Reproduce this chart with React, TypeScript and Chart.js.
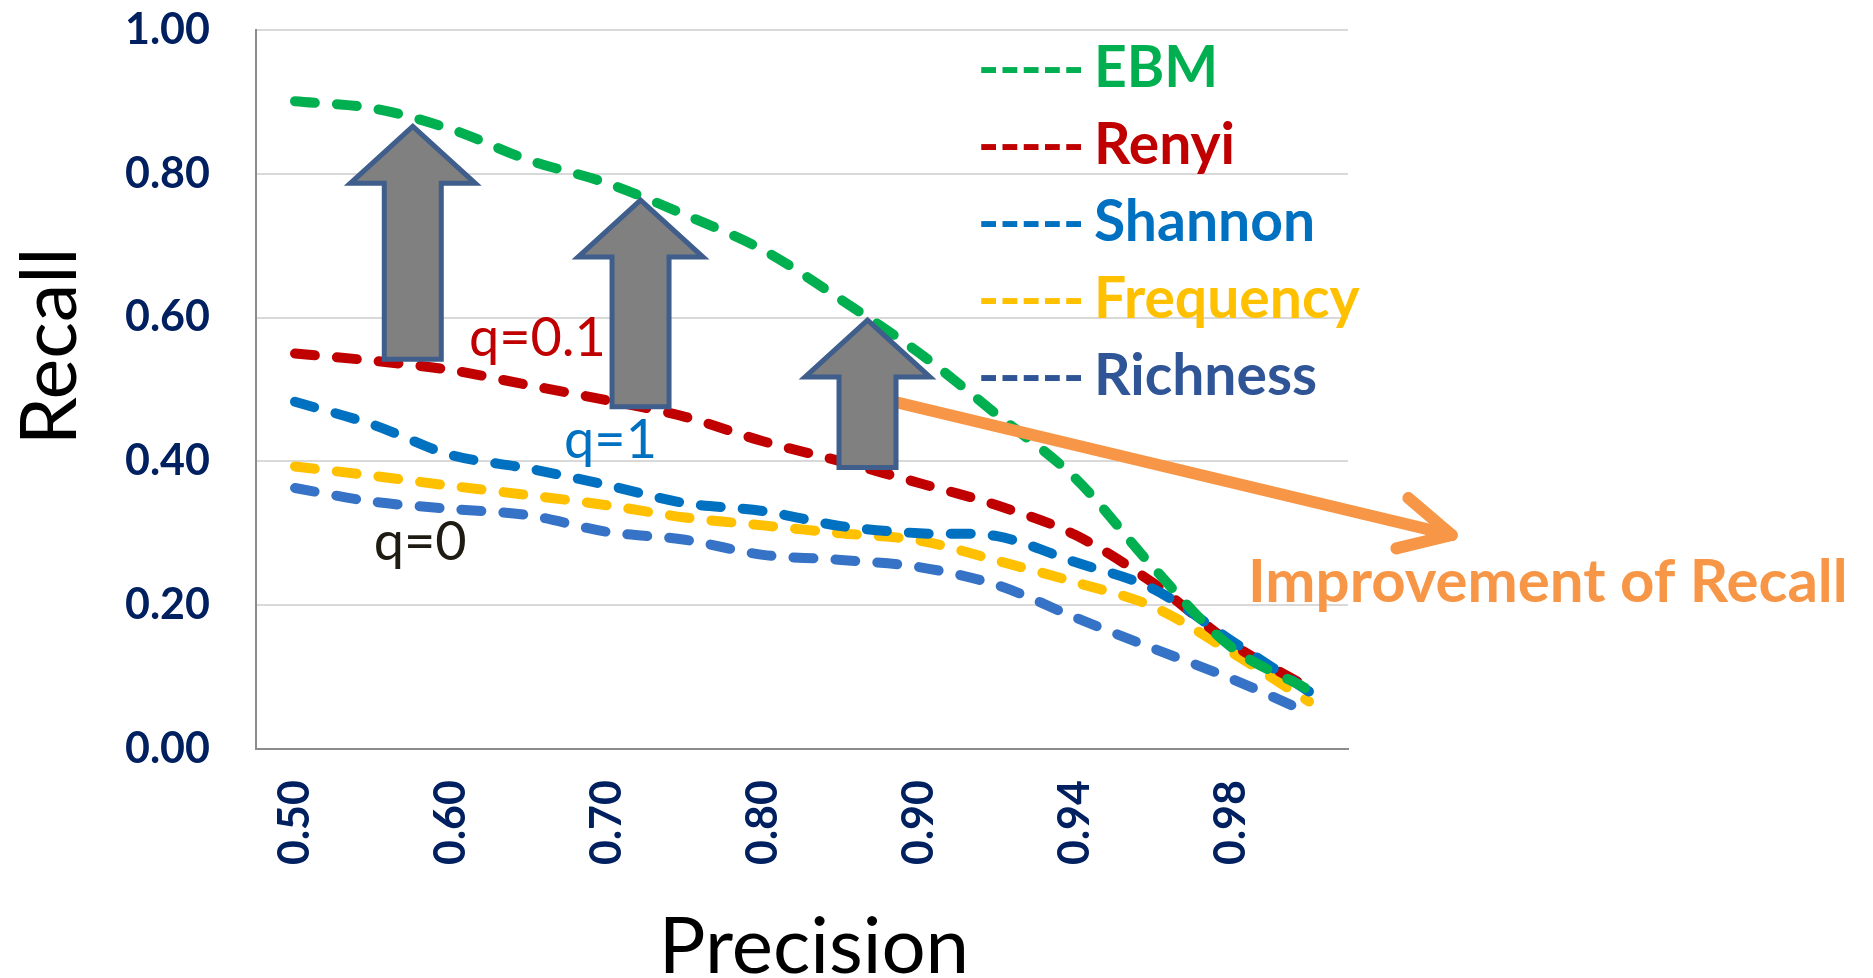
import { useEffect, useRef } from "react";
import { Chart, registerables } from "chart.js";

Chart.register(...registerables);

// Precision thresholds (x categories); every other one is labelled on the axis
const precisionLabels = ["0.50", "0.55", "0.60", "0.65", "0.70", "0.75", "0.80", "0.85", "0.90", "0.92", "0.94", "0.96", "0.98", "1.00"];

// Recall per method at each precision threshold
const ebmRecall = [0.901, 0.891, 0.862, 0.819, 0.787, 0.743, 0.694, 0.625, 0.551, 0.465, 0.377, 0.253, 0.142, 0.082];
const renyiRecall = [0.55, 0.54, 0.527, 0.506, 0.485, 0.462, 0.428, 0.4, 0.37, 0.339, 0.298, 0.231, 0.147, 0.085];
const shannonRecall = [0.483, 0.451, 0.409, 0.39, 0.367, 0.342, 0.331, 0.31, 0.3, 0.296, 0.26, 0.223, 0.151, 0.08];
const frequencyRecall = [0.393, 0.38, 0.366, 0.353, 0.339, 0.322, 0.311, 0.3, 0.29, 0.262, 0.232, 0.198, 0.135, 0.066];
const richnessRecall = [0.363, 0.344, 0.334, 0.325, 0.302, 0.291, 0.27, 0.263, 0.253, 0.228, 0.183, 0.14, 0.098, 0.05];

const seriesNames = ["EBM", "Renyi", "Shannon", "Frequency", "Richness"];
const seriesValues = [ebmRecall, renyiRecall, shannonRecall, frequencyRecall, richnessRecall];
const lineColors = ["#00B050", "#C00000", "#0070C0", "#FFC000", "#3672C6"];
const legendColors = ["#00B050", "#C00000", "#0070C0", "#FFC000", "#2F5597"];
// stacking: EBM on top, then Shannon, Renyi, Frequency, Richness
const drawOrder = [0, 2, 1, 3, 4];

// Diversity-order labels next to the curves: [text, x index, recall at baseline, colour]
const qLabels: [string, number, number, string][] = [
  ["q=0.1", 2.23, 0.546, "#C00000"],
  ["q=1", 3.45, 0.405, "#0070C0"],
  ["q=0", 1.01, 0.263, "#1E1C12"],
];

// Upward "improvement" arrows: [x index, recall at tip, recall at base]
const upArrows: [number, number, number][] = [
  [1.51, 0.866, 0.542],
  [4.43, 0.7635, 0.476],
  [7.34, 0.5965, 0.3915],
];

const tickFont = { family: "Lato", size: 43, weight: "bold" as const };
const tickColor = "#002060";

const annotations = {
  id: "annotations",
  afterDatasetsDraw(chart: any) {
    const { ctx, chartArea, scales } = chart;
    const x = scales.x;
    const y = scales.y;
    ctx.save();

    // q labels
    ctx.font = "54px Lato";
    ctx.textAlign = "left";
    ctx.textBaseline = "alphabetic";
    for (const [text, xi, v, color] of qLabels) {
      ctx.fillStyle = color;
      ctx.fillText(text, x.getPixelForValue(xi), y.getPixelForValue(v));
    }

    // orange arrow pointing to the caption
    const sx = x.getPixelForValue(7.6);
    const sy = y.getPixelForValue(0.485);
    const ex = x.getPixelForValue(14.83);
    const ey = y.getPixelForValue(0.2976);
    ctx.strokeStyle = "#F79646";
    ctx.lineWidth = 12;
    ctx.lineCap = "round";
    ctx.lineJoin = "round";
    ctx.beginPath();
    ctx.moveTo(sx, sy);
    ctx.lineTo(ex, ey);
    ctx.stroke();
    const ang = Math.atan2(sy - ey, sx - ex);
    const arm = 57;
    const spread = (27 * Math.PI) / 180;
    ctx.beginPath();
    ctx.moveTo(ex + arm * Math.cos(ang + spread), ey + arm * Math.sin(ang + spread));
    ctx.lineTo(ex, ey);
    ctx.lineTo(ex + arm * Math.cos(ang - spread), ey + arm * Math.sin(ang - spread));
    ctx.stroke();

    // block arrows
    ctx.fillStyle = "#808080";
    ctx.strokeStyle = "#3F5E8C";
    ctx.lineWidth = 5;
    ctx.lineJoin = "miter";
    ctx.lineCap = "butt";
    const headLen = 57;
    const headW = 125;
    const shaftW = 57;
    for (const [xi, tipV, baseV] of upArrows) {
      const cx = x.getPixelForValue(xi);
      const tipY = y.getPixelForValue(tipV);
      const baseY = y.getPixelForValue(baseV);
      ctx.beginPath();
      ctx.moveTo(cx, tipY);
      ctx.lineTo(cx + headW / 2, tipY + headLen);
      ctx.lineTo(cx + shaftW / 2, tipY + headLen);
      ctx.lineTo(cx + shaftW / 2, baseY);
      ctx.lineTo(cx - shaftW / 2, baseY);
      ctx.lineTo(cx - shaftW / 2, tipY + headLen);
      ctx.lineTo(cx - headW / 2, tipY + headLen);
      ctx.closePath();
      ctx.fill();
      ctx.stroke();
    }

    // legend
    ctx.font = "bold 57px Lato";
    ctx.textBaseline = "alphabetic";
    const lx = chartArea.right - 370;
    seriesNames.forEach((name, i) => {
      const by = chartArea.top + 57 + 77 * i;
      ctx.fillStyle = legendColors[i];
      ctx.fillText("-----", lx, by);
      ctx.fillText(name, lx + 116, by);
    });

    // caption
    ctx.fillStyle = "#F79646";
    ctx.font = "bold 60px Lato";
    ctx.fillText("Improvement of Recall", chartArea.right - 100, chartArea.top + 572);

    // axis titles
    ctx.fillStyle = "#000000";
    ctx.font = "78px Lato";
    ctx.textAlign = "center";
    ctx.fillText("Precision", (chartArea.left + chartArea.right) / 2 + 12, chart.height - 5);
    ctx.font = "77px Lato";
    ctx.translate(76, y.getPixelForValue(0.56));
    ctx.rotate(-Math.PI / 2);
    ctx.fillText("Recall", 0, 0);

    ctx.restore();
  },
};

export default function App() {
  const canvasRef = useRef<HTMLCanvasElement>(null);

  useEffect(() => {
    const canvas = canvasRef.current;
    if (!canvas) return;
    const chart = new Chart(canvas, {
      type: "line",
      data: {
        labels: precisionLabels,
        datasets: seriesNames.map((name, i) => ({
          label: name,
          data: seriesValues[i],
          borderColor: lineColors[i],
          backgroundColor: lineColors[i],
          borderWidth: 10,
          borderDash: [20, 22],
          borderCapStyle: "round" as const,
          borderJoinStyle: "round" as const,
          pointRadius: 0,
          tension: 0.33,
          fill: false,
          order: drawOrder[i],
        })),
      },
      options: {
        animation: false,
        responsive: true,
        maintainAspectRatio: false,
        layout: { padding: { top: 30, right: 525, left: 0, bottom: 0 } },
        plugins: {
          legend: { display: false },
          tooltip: { enabled: false },
        },
        scales: {
          x: {
            type: "category",
            offset: true,
            grid: { display: false, drawTicks: false },
            border: { display: true, color: "#8C8C8C", width: 2 },
            ticks: {
              autoSkip: false,
              minRotation: 90,
              maxRotation: 90,
              padding: 31,
              color: tickColor,
              font: tickFont,
              callback: (_v: any, i: number) => (i % 2 === 0 ? precisionLabels[i] : ""),
            },
            afterFit: (s: any) => {
              s.height = 229;
            },
          },
          y: {
            min: 0,
            max: 1,
            grid: {
              drawTicks: false,
              lineWidth: 2,
              color: (c: any) => (c.tick && c.tick.value === 0 ? "rgba(0,0,0,0)" : "#D9D9D9"),
            },
            border: { display: true, color: "#8C8C8C", width: 2 },
            ticks: {
              stepSize: 0.2,
              padding: 46,
              color: tickColor,
              font: tickFont,
              callback: (v: any) => Number(v).toFixed(2),
            },
            afterFit: (s: any) => {
              s.width = 256;
              s.paddingTop = 0;
              s.paddingBottom = 0;
            },
          },
        },
      },
      plugins: [annotations],
    });
    return () => chart.destroy();
  }, []);

  return (
    <div style={{ position: "fixed", left: 0, top: 0, width: "1873px", height: "978px", background: "#ffffff" }}>
      <canvas ref={canvasRef} />
    </div>
  );
}
